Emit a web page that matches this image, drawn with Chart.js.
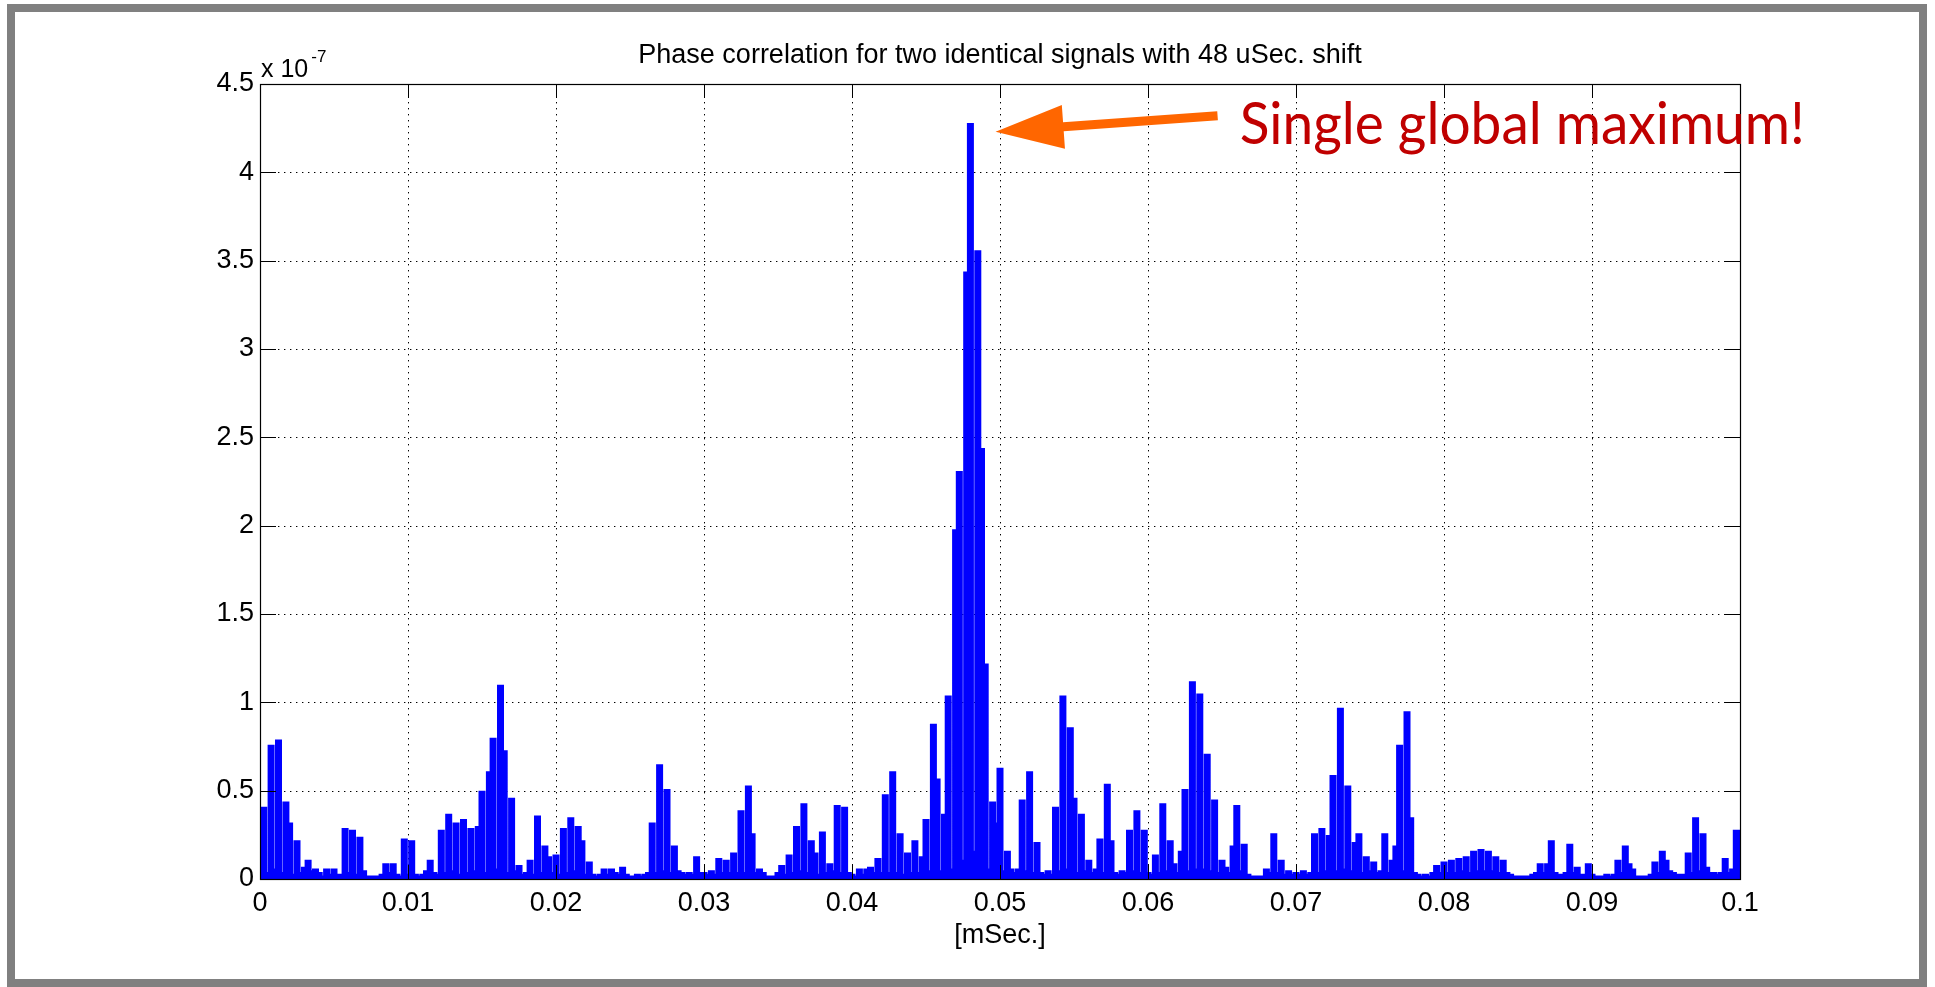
<!DOCTYPE html>
<html>
<head>
<meta charset="utf-8">
<script src="https://cdn.jsdelivr.net/npm/chart.js@4.4.0/dist/chart.umd.min.js"></script>
<style>
html,body{margin:0;padding:0;background:#fff;}
canvas{display:block;}
</style>
</head>
<body>
<canvas id="c" width="1935" height="987"></canvas>
<script>
// ---------------- data ----------------
const titleText = 'Phase correlation for two identical signals with 48 uSec. shift';
const xAxisTitle = '[mSec.]';
const xTickLabels = ['0','0.01','0.02','0.03','0.04','0.05','0.06','0.07','0.08','0.09','0.1'];
const yTickLabels = ['0','0.5','1','1.5','2','2.5','3','3.5','4','4.5'];
const xTickStep = 0.01;
const yTickStep = 0.5;
const exponentBase = 'x 10';
const exponentPower = '-7';
const sampleStartMs = 0;
const sampleStepMs = 0.00025;
// phase-correlation magnitude, in units of 1e-7, one value per 0.25 uSec sample
const correlation = [
0.10,0.40,0.03,0.75,0.05,0.78,0.03,0.43,0.31,0.02,
0.21,0.03,0.06,0.10,0.04,0.05,0.03,0.01,0.05,0.02,
0.05,0.02,0.02,0.28,0.03,0.27,0.02,0.23,0.04,0.01,
0.01,0.01,0.01,0.02,0.08,0.03,0.08,0.02,0.01,0.22,
0.02,0.21,0.02,0.01,0.02,0.04,0.10,0.03,0.02,0.27,
0.03,0.36,0.04,0.31,0.02,0.33,0.03,0.28,0.04,0.29,
0.49,0.03,0.60,0.79,0.05,1.09,0.72,0.03,0.45,0.04,
0.07,0.02,0.03,0.10,0.02,0.35,0.03,0.18,0.12,0.03,
0.13,0.02,0.28,0.03,0.34,0.04,0.29,0.21,0.02,0.09,
0.02,0.01,0.02,0.05,0.02,0.05,0.03,0.02,0.06,0.02,
0.01,0.01,0.02,0.01,0.02,0.03,0.31,0.03,0.64,0.04,
0.50,0.03,0.18,0.04,0.03,0.02,0.03,0.02,0.12,0.03,
0.03,0.02,0.04,0.02,0.11,0.03,0.10,0.03,0.14,0.03,
0.38,0.03,0.52,0.25,0.03,0.05,0.03,0.01,0.01,0.01,
0.03,0.07,0.02,0.13,0.03,0.29,0.04,0.42,0.03,0.21,
0.14,0.02,0.26,0.03,0.08,0.04,0.41,0.03,0.40,0.03,
0.02,0.01,0.05,0.02,0.05,0.06,0.03,0.11,0.03,0.47,
0.03,0.60,0.03,0.25,0.02,0.14,0.03,0.21,0.03,0.12,
0.33,0.04,0.87,0.56,0.04,0.36,1.03,0.05,1.97,2.30,
0.10,3.43,4.27,0.15,3.55,2.43,1.21,0.05,0.43,0.31,
0.62,0.04,0.15,0.05,0.03,0.05,0.44,0.04,0.60,0.03,
0.20,0.03,0.02,0.04,0.02,0.40,0.04,1.03,0.05,0.85,
0.45,0.03,0.36,0.04,0.10,0.03,0.05,0.22,0.03,0.53,
0.21,0.03,0.02,0.04,0.03,0.27,0.04,0.38,0.03,0.27,
0.03,0.02,0.13,0.03,0.42,0.04,0.21,0.08,0.03,0.15,
0.50,0.04,1.11,0.05,1.04,0.05,0.70,0.04,0.44,0.03,
0.10,0.06,0.03,0.18,0.41,0.04,0.19,0.02,0.01,0.01,
0.01,0.01,0.05,0.03,0.25,0.03,0.10,0.02,0.04,0.02,
0.03,0.02,0.04,0.02,0.03,0.25,0.03,0.28,0.04,0.24,
0.58,0.04,0.96,0.05,0.52,0.04,0.20,0.25,0.03,0.12,
0.04,0.09,0.03,0.04,0.25,0.03,0.10,0.18,0.75,0.04,
0.94,0.34,0.03,0.02,0.01,0.02,0.01,0.03,0.07,0.03,
0.09,0.03,0.10,0.03,0.11,0.04,0.12,0.03,0.15,0.04,
0.16,0.04,0.15,0.04,0.12,0.03,0.10,0.03,0.02,0.01,
0.01,0.01,0.01,0.01,0.02,0.03,0.08,0.03,0.08,0.21,
0.03,0.02,0.02,0.03,0.19,0.03,0.06,0.02,0.02,0.08,
0.02,0.01,0.01,0.01,0.02,0.01,0.02,0.10,0.03,0.18,
0.08,0.05,0.01,0.01,0.01,0.01,0.02,0.09,0.03,0.15,
0.10,0.04,0.03,0.02,0.02,0.02,0.14,0.03,0.34,0.04,
0.25,0.06,0.03,0.03,0.02,0.03,0.11,0.03,0.05,0.27,
0.27
];
// annotation (anchored in data coordinates)
const annotationText = 'Single global maximum!';
const arrowTip = {x: 0.0497, y: 4.23};
const arrowTail = {x: 0.0647, y: 4.32};
const annotationTextAnchor = {x: 0.0662, y: 4.16};

// ---------------- styles ----------------
const FONT = "'Liberation Sans', Arial, Helvetica, sans-serif";
const LINE_BLUE = '#0000ff';
const ARROW_ORANGE = '#ff6600';
const ANNOT_RED = '#c00000';
const FRAME_GRAY = '#808080';

const points = correlation.map((v, i) => ({x: sampleStartMs + i * sampleStepMs, y: v}));

const matlabLook = {
  id: 'matlabLook',
  beforeDraw(chart) {
    const c = chart.ctx;
    c.save();
    c.fillStyle = '#fff';
    c.fillRect(0, 0, chart.width, chart.height);
    c.restore();
  },
  beforeDatasetsDraw(chart) {
    const {ctx: c, chartArea: a, scales: {x, y}} = chart;
    c.save();
    c.strokeStyle = '#000';
    c.lineWidth = 1;
    c.setLineDash([1.4, 4.6]);
    x.ticks.forEach(t => {
      const px = Math.round(x.getPixelForValue(t.value)) + 0.5;
      c.beginPath(); c.moveTo(px, a.top); c.lineTo(px, a.bottom); c.stroke();
    });
    y.ticks.forEach(t => {
      const py = Math.round(y.getPixelForValue(t.value)) + 0.5;
      c.beginPath(); c.moveTo(a.left, py); c.lineTo(a.right, py); c.stroke();
    });
    c.restore();
  },
  afterDatasetsDraw(chart) {
    const {ctx: c, chartArea: a, scales: {x, y}} = chart;
    c.save();
    c.strokeStyle = '#000';
    c.lineWidth = 1.2;
    c.setLineDash([]);
    c.strokeRect(Math.round(a.left) + 0.5, Math.round(a.top) + 0.5,
                 Math.round(a.right - a.left), Math.round(a.bottom - a.top));
    const xTickLen = 14, yTickLen = 16;
    c.lineWidth = 1;
    x.ticks.forEach(t => {
      const px = Math.round(x.getPixelForValue(t.value)) + 0.5;
      c.beginPath();
      c.moveTo(px, a.bottom); c.lineTo(px, a.bottom - xTickLen);
      c.moveTo(px, a.top); c.lineTo(px, a.top + xTickLen);
      c.stroke();
    });
    y.ticks.forEach(t => {
      const py = Math.round(y.getPixelForValue(t.value)) + 0.5;
      c.beginPath();
      c.moveTo(a.left, py); c.lineTo(a.left + yTickLen, py);
      c.moveTo(a.right, py); c.lineTo(a.right - yTickLen, py);
      c.stroke();
    });
    c.restore();
  },
  afterDraw(chart) {
    const {ctx: c, chartArea: a, scales: {x, y}} = chart;
    c.save();
    c.fillStyle = '#000';
    c.font = '27px ' + FONT;
    c.textAlign = 'center';
    c.textBaseline = 'alphabetic';
    c.fillText(titleText, (a.left + a.right) / 2, a.top - 21);
    c.textAlign = 'left';
    c.font = '25px ' + FONT;
    c.fillText(exponentBase, a.left + 1, a.top - 7);
    const wBase = c.measureText(exponentBase).width;
    c.font = '17px ' + FONT;
    c.fillText(exponentPower, a.left + 1 + wBase + 3, a.top - 22);

    const tx = x.getPixelForValue(arrowTip.x), ty = y.getPixelForValue(arrowTip.y);
    const sx = x.getPixelForValue(arrowTail.x), sy = y.getPixelForValue(arrowTail.y);
    const len = Math.hypot(sx - tx, sy - ty);
    const ux = (sx - tx) / len, uy = (sy - ty) / len;
    const nx = -uy, ny = ux;
    const headLen = 68, headHalf = 22, shaftHalf = 4.5;
    const bx = tx + ux * headLen, by = ty + uy * headLen;
    c.fillStyle = ARROW_ORANGE;
    c.beginPath();
    c.moveTo(tx, ty);
    c.lineTo(bx + nx * headHalf, by + ny * headHalf);
    c.lineTo(bx + nx * shaftHalf, by + ny * shaftHalf);
    c.lineTo(sx + nx * shaftHalf, sy + ny * shaftHalf);
    c.lineTo(sx - nx * shaftHalf, sy - ny * shaftHalf);
    c.lineTo(bx - nx * shaftHalf, by - ny * shaftHalf);
    c.lineTo(bx - nx * headHalf, by - ny * headHalf);
    c.closePath();
    c.fill();

    const ax = x.getPixelForValue(annotationTextAnchor.x);
    const ay = y.getPixelForValue(annotationTextAnchor.y);
    c.font = "58px Lato, 'Open Sans', sans-serif";
    const tw = c.measureText(annotationText).width;
    const targetW = 565;
    c.translate(ax, ay);
    c.scale(targetW / tw, 1);
    c.fillStyle = ANNOT_RED;
    c.textAlign = 'left';
    c.textBaseline = 'alphabetic';
    c.fillText(annotationText, 0, 0);
    c.restore();

    c.save();
    c.strokeStyle = FRAME_GRAY;
    c.lineWidth = 8;
    c.strokeRect(11, 8, 1912, 975);
    c.restore();
  }
};

new Chart(document.getElementById('c'), {
  type: 'line',
  data: {
    datasets: [{
      data: points,
      borderColor: LINE_BLUE,
      backgroundColor: LINE_BLUE,
      borderWidth: 3.3,
      pointRadius: 0,
      stepped: 'middle',
      fill: 'origin',
      tension: 0
    }]
  },
  options: {
    responsive: false,
    animation: false,
    devicePixelRatio: 1,
    layout: {padding: {left: 0, right: 195, top: 84, bottom: 0}},
    plugins: {legend: {display: false}, title: {display: false}, tooltip: {enabled: false}},
    scales: {
      x: {
        type: 'linear', min: 0, max: 0.1,
        ticks: {
          stepSize: xTickStep, autoSkip: false, maxRotation: 0,
          callback: v => xTickLabels[Math.round(v / xTickStep)],
          font: {family: FONT, size: 27}, color: '#000', padding: 8
        },
        grid: {display: false, drawTicks: false},
        border: {display: false},
        title: {display: true, text: xAxisTitle, color: '#000',
                font: {family: FONT, size: 27}, padding: {top: 0, bottom: 35}},
        afterFit: s => { s.height = 108; }
      },
      y: {
        min: 0, max: 4.5,
        ticks: {
          stepSize: yTickStep, autoSkip: false,
          callback: v => yTickLabels[Math.round(v / yTickStep)],
          font: {family: FONT, size: 27}, color: '#000', padding: 6
        },
        grid: {display: false, drawTicks: false},
        border: {display: false},
        afterFit: s => { s.width = 260; }
      }
    }
  },
  plugins: [matlabLook]
});
</script>
</body>
</html>
